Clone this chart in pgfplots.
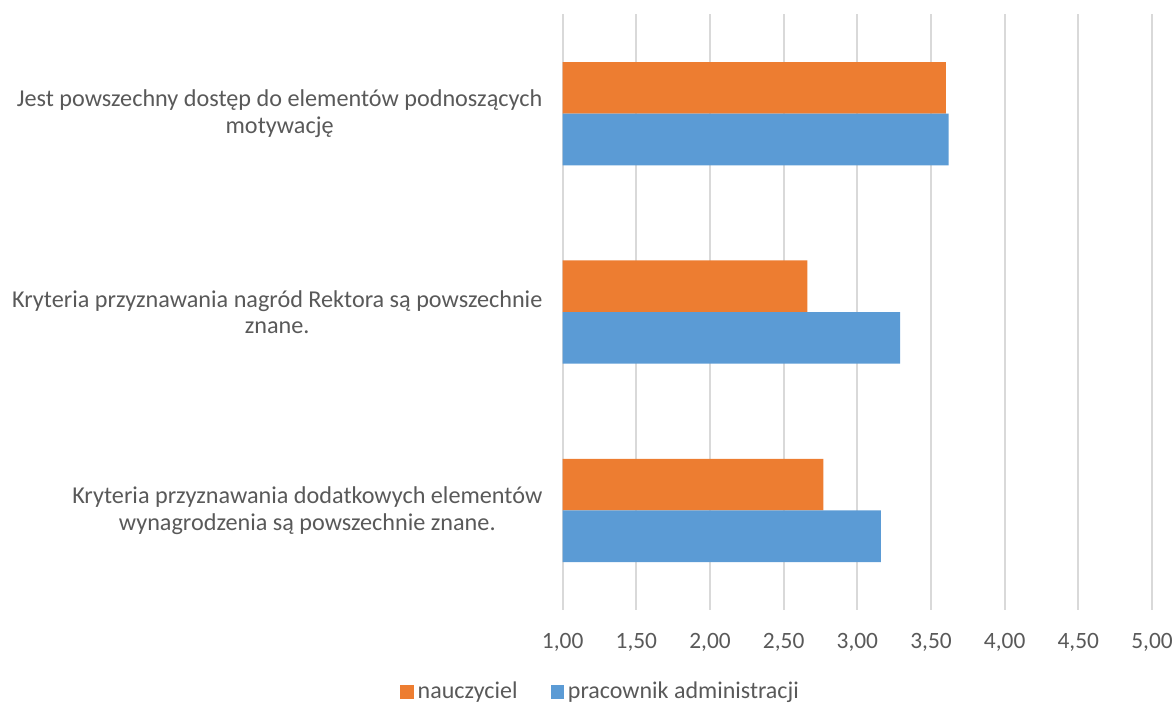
\documentclass[border=0pt]{standalone}
\usepackage{pgfplots}
\pgfplotsset{compat=1.18}
\usepackage{fontspec}
\setmainfont{Carlito}

\definecolor{barorange}{HTML}{ED7D31}
\definecolor{barblue}{HTML}{5B9BD5}
\definecolor{gridgray}{HTML}{D9D9D9}
\definecolor{labelgray}{HTML}{595959}

\begin{document}
\begin{tikzpicture}
\useasboundingbox (0,0) rectangle (588pt,352pt);
\begin{axis}[
  at={(281.35pt,47.15pt)}, anchor=south west,
  scale only axis,
  width=294.65pt, height=297.6pt,
  xmin=1, xmax=5, ymin=0.5, ymax=3.5,
  y dir=reverse,
  xbar=0pt, bar width=25.8pt,
  axis line style={draw=none},
  major tick length=0pt,
  xmajorgrids,
  grid style={draw=gridgray, line width=1pt},
  xtick={1,1.5,2,2.5,3,3.5,4,4.5,5},
  xticklabels={{1,00},{1,50},{2,00},{2,50},{3,00},{3,50},{4,00},{4,50},{5,00}},
  xticklabel style={font=\fontsize{11.7pt}{14pt}\selectfont, text=labelgray,
    anchor=north, inner sep=0pt, yshift=-11.5pt},
  ytick={1,2,3},
  yticklabels={
    {Jest powszechny dostęp do elementów podnoszących\\motywację},
    {Kryteria przyznawania nagród Rektora są powszechnie\\znane.},
    {Kryteria przyznawania dodatkowych elementów\\wynagrodzenia są powszechnie znane.}},
  yticklabel style={font=\fontsize{12.1pt}{13.4pt}\selectfont, text=labelgray,
    align=center, anchor=east, inner sep=0pt, xshift=-10pt},
  legend style={draw=none, fill=none, at={(0.066,-0.138)}, anchor=center,
    font=\fontsize{12pt}{14pt}\selectfont, text=labelgray,
    legend columns=2, inner sep=0pt,
    /tikz/every even column/.append style={column sep=14.5pt}},
  legend cell align=left,
  legend image code/.code={\fill[#1] (0pt,-3.35pt) rectangle (6.7pt,3.35pt);},
]
% orange series sits above the blue one in every category
\addplot[fill=barorange, draw=none, bar shift=12.9pt]
  coordinates {(3.60,1) (2.66,2) (2.77,3)};
\addlegendentry{nauczyciel}
\addplot[fill=barblue, draw=none, bar shift=-12.9pt]
  coordinates {(3.62,1) (3.29,2) (3.16,3)};
\addlegendentry{pracownik administracji}
\end{axis}
\end{tikzpicture}
\end{document}
